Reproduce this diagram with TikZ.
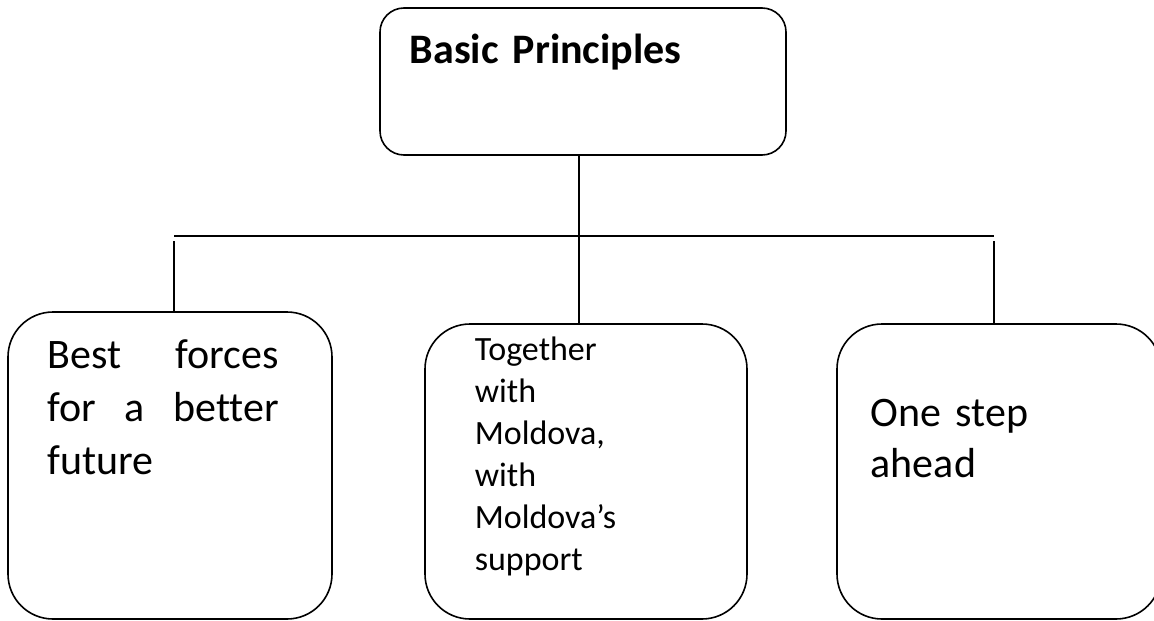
\documentclass[tikz,border=0pt]{standalone}
\usepackage{fontspec}
\setmainfont{Carlito}[Ligatures=NoCommon]
\usetikzlibrary{positioning}

\begin{document}
\begin{tikzpicture}[x=1pt, y=-1pt, line width=1.6pt,
  box/.style={draw, inner sep=0pt, outer sep=0pt, rounded corners=45pt, minimum width=324pt},
  txt/.style={inner sep=0pt, anchor=base west, text width=250pt, align=left}]
  \useasboundingbox (0,0) rectangle (1154,621);
  \node[box, rounded corners=24pt, minimum width=406pt, minimum height=147pt] (principles) at (583,81.5) {};
  \node[box, minimum height=307pt] (forces) at (170,465.5) {};
  \node[box, minimum width=322pt, minimum height=295pt] (moldova) at (586,471.5) {};
  \node[box, minimum height=295pt] (ahead) at (999,471.5) {};

  \node[txt, text width=340pt, font=\bfseries\fontsize{42}{50}\selectfont] (principles text) at (409,63) {Basic Principles};
  \node[txt, text width=231pt, align=justify, font=\fontsize{42}{53}\selectfont] (forces text) at (47,368)
    {Best\hfill forces\\for\hfill a\hfill better\\future};
  \node[txt, font=\fontsize{34}{42}\selectfont] (moldova text) at (474,360)
    {Together\\with\\Moldova,\\with\\Moldova’s\\support};
  \node[txt, font=\fontsize{42}{51}\selectfont] (ahead text) at (870,426) {One step\\ahead};

  \coordinate (hub) at (579,236);
  \coordinate (bar west) at (174,236);
  \coordinate (bar east) at (994,236);
  \draw (principles.south -| hub) -- (hub);
  \draw (bar west) -- (bar east);
  \draw ([yshift=-5pt]bar west) -- (forces.north -| bar west);
  \draw (hub) -- (moldova.north -| hub);
  \draw ([yshift=-5pt]bar east) -- (ahead.north -| bar east);
\end{tikzpicture}
\end{document}
